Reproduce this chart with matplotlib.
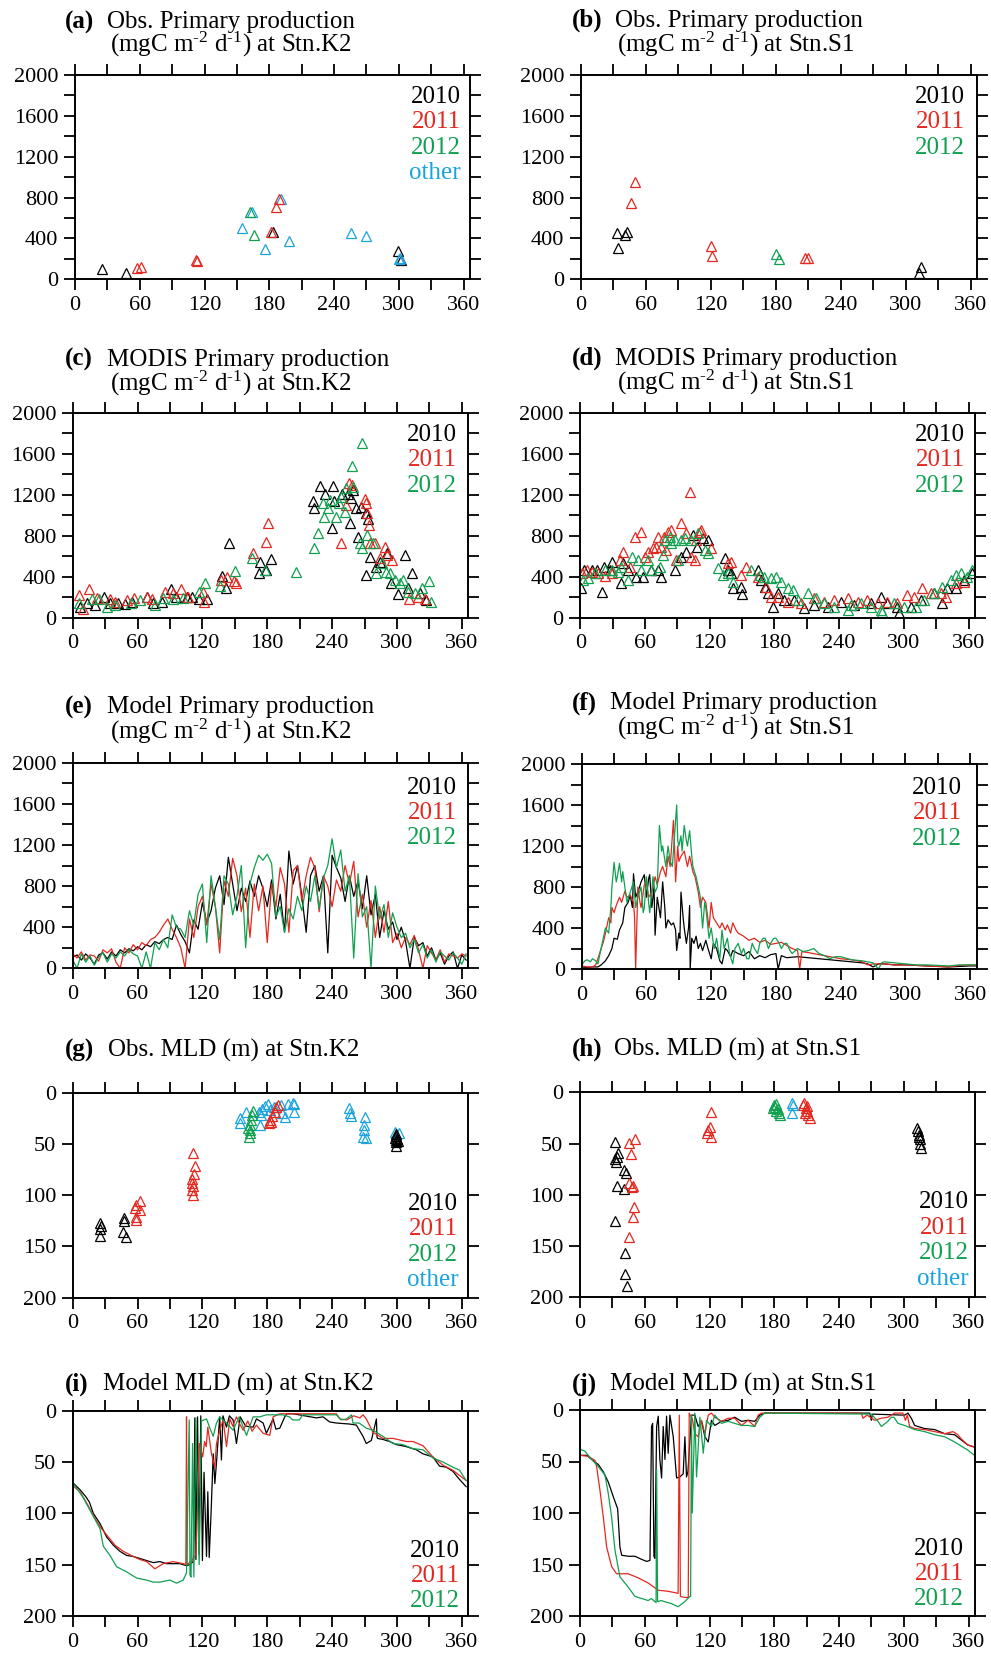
import numpy as np
import matplotlib
matplotlib.use('Agg')
import matplotlib.pyplot as plt
from matplotlib.ticker import MultipleLocator

plt.rcParams['font.family'] = ['Liberation Serif', 'DejaVu Serif']
plt.rcParams['mathtext.fontset'] = 'custom'
plt.rcParams['mathtext.rm'] = 'Liberation Serif'
plt.rcParams['mathtext.default'] = 'regular'

BLK = 'black'
RED = '#e4281f'
GRN = '#10a050'
CYN = '#1aa3de'
W, H = 991, 1654

# ---------------- (a) obs PP K2
a_2010_x = [25, 47, 183, 299, 302]
a_2010_y = [98, 65, 460, 281, 189]
a_2011_x = [57, 61, 111.7, 113.5, 182, 186, 189]
a_2011_y = [108, 124, 189, 179, 467, 705, 790]
a_2012_x = [162.6, 165.7]
a_2012_y = [662, 434]
a_oth_x = [155, 164, 176.5, 190.6, 198, 256, 270, 300, 301]
a_oth_y = [499, 662, 294, 786, 378, 450, 424, 199, 210]

# ---------------- (b) obs PP S1
b_2010_x = [33, 34.5, 40.7, 42.9, 312.8, 314.7]
b_2010_y = [450, 303, 431, 460, 65, 124]
b_2011_x = [46.6, 49.7, 119.7, 121.5, 206.7, 209.8]
b_2011_y = [744, 956, 326, 232, 205, 212]
b_2012_x = [180.5, 183]
b_2012_y = [248, 202]

# ---------------- (c) MODIS PP K2
c_2010_x = [6.8, 13.5, 20.6, 29, 34.5, 42.2, 48.4, 54.5, 68.4, 74.5, 82.2, 90.5, 96, 105.3, 110, 117, 123.8,
            137.7, 141.4, 144.4, 173, 172.5, 179.2, 183.9, 222.4, 223, 228.5, 233.8, 240.8, 240, 241.8, 249.5,
            254.7, 256.2, 257.2, 261.8, 259.3, 264, 267, 271, 271.6, 273.2, 274.7, 280.9, 284, 291, 294.7,
            300.9, 307, 310, 313.8, 321, 327]
c_2010_y = [107, 140, 124, 205, 140, 140, 130, 156, 198, 140, 156, 276, 205, 205, 205, 179, 179,
            406, 286, 725, 546, 439, 465, 572, 1141, 1067, 1285, 1203, 1285, 872, 1138, 1203,
            1206, 920, 1164, 1067, 1246, 790, 1083, 1018, 416, 959, 595, 498, 546, 628, 335,
            231, 611, 286, 433, 237, 172]
c_2011_x = [6.2, 9.2, 15.4, 22.2, 34.5, 39.1, 49.9, 57, 68.4, 73, 85.3, 93, 100.1, 106.9, 120.1, 121.3,
            137, 142.3, 149.4, 150.9, 166.9, 179.2, 180.8, 248.5, 253.2, 255.6, 258.7, 270.1, 271.6,
            272.6, 274.1, 275.3, 279.3, 284, 288.6, 291, 295.7, 311, 319.4, 326.1]
c_2011_y = [221, 81, 276, 189, 179, 156, 172, 189, 205, 179, 254, 237, 276, 205, 254, 156,
            367, 393, 361, 335, 628, 741, 920, 732, 1099, 1311, 1294, 1154, 1115,
            1018, 904, 732, 725, 579, 686, 611, 563, 179, 205, 179]
c_2012_x = [6.2, 17.6, 24.6, 31.4, 39.1, 53.9, 62.2, 76.1, 83.8, 92.4, 102.2, 117, 122.3, 136.1, 150,
            166, 177.7, 207, 223.3, 227, 231.6, 232.5, 236.2, 237.8, 243.9, 246.4, 248.5, 251.6, 258.7,
            267.9, 259.3, 253.2, 265.5, 268, 272.6, 277.8, 280.9, 286.4, 289.5, 293.2, 297.8, 302.4,
            305.5, 310, 316.3, 323.4, 329.2, 331.7]
c_2012_y = [146, 179, 179, 107, 124, 140, 172, 124, 189, 179, 189, 254, 341, 309, 459,
            579, 465, 449, 676, 823, 1115, 985, 1067, 1148, 985, 1115, 1180, 1034, 1480,
            1707, 1278, 1262, 725, 676, 806, 732, 433, 530, 449, 433, 367, 335,
            367, 254, 237, 286, 361, 156]

# ---------------- (d) MODIS PP S1
d_2010_x = [0.6, 3.7, 10.5, 15.1, 20.3, 22.2, 27.4, 29, 38.2, 39.8, 44.4, 52.1, 58.3, 66, 72.1, 75.2,
            87.5, 93.7, 98.3, 104.5, 108.5, 113.7, 118.4, 133.8, 136.9, 139.9, 141.5, 149.2, 149.8, 164.6,
            167.7, 171.4, 173.9, 178.5, 183.1, 189.3, 198.5, 207.8, 217, 229.3, 241.7, 254, 269.4, 278.7,
            284.8, 294.1, 295.6, 306.4, 315.7, 328, 335.7, 340.3, 348, 355.7, 363.4]
d_2010_y = [286, 465, 465, 465, 254, 498, 465, 546, 341, 530, 465, 393, 393, 465, 465, 400,
            465, 595, 644, 806, 693, 774, 758, 579, 465, 433, 286, 302, 231, 465,
            367, 302, 237, 107, 237, 172, 172, 91, 124, 107, 156, 124, 140, 205,
            140, 107, 42, 107, 172, 237, 140, 286, 286, 367, 433]
d_2011_x = [1.8, 5.9, 10.5, 16.6, 22.8, 29, 36.7, 39.8, 45.9, 50.6, 56.7, 59.8, 62.9, 67.5, 70, 72.1,
            75.2, 77.7, 79.8, 81.4, 84.5, 89.1, 93.1, 98.3, 101.4, 103, 106, 107.6, 110.7, 112.2, 120.8,
            136.9, 139.9, 149.2, 153.8, 164.6, 172.3, 176.9, 183.1, 192.4, 204.7, 217, 226.3, 235.5,
            247.8, 257.1, 266.3, 275.6, 284.8, 294.1, 303.3, 309.5, 317.2, 324.9, 334.2, 338.8, 348, 355.7]
d_2011_y = [433, 465, 449, 433, 407, 433, 563, 644, 498, 790, 839, 595, 644, 676, 693, 790,
            693, 790, 660, 839, 855, 563, 920, 823, 1229, 595, 563, 758, 839, 855, 676,
            530, 546, 416, 498, 400, 302, 205, 205, 156, 140, 189, 156, 172,
            189, 156, 172, 140, 156, 140, 221, 205, 286, 237, 237, 205, 335, 351]
d_2012_x = [2.8, 7.4, 13.6, 22.8, 29, 35.1, 38.2, 44.4, 47.5, 53.6, 56.7, 62.9, 66, 73.7, 76.8, 78.3,
            82.9, 84.5, 87.5, 90.6, 93.7, 96.8, 103, 109.1, 115.3, 118.4, 127.6, 132.2, 136.9, 141.5,
            158.4, 166.2, 170.8, 176.9, 181.6, 186.2, 192.4, 197, 201.6, 210.9, 218.6, 226.3, 235.5,
            247.8, 250.9, 260.2, 269.4, 278.7, 280.2, 291, 300.2, 311, 318.7, 328, 335.7, 343.4, 348,
            352.7, 358.8, 363.4]
d_2012_y = [367, 384, 433, 465, 465, 449, 498, 367, 595, 563, 465, 563, 465, 498, 611, 758,
            790, 725, 758, 563, 758, 774, 758, 823, 660, 628, 481, 416, 433, 351,
            465, 416, 400, 384, 400, 351, 286, 270, 172, 237, 189, 140, 107,
            75, 124, 140, 107, 75, 59, 140, 107, 107, 172, 237, 302, 367, 416,
            433, 400, 465]

# ---------------- (e) model PP K2 (every 4 days)
e_day = list(range(0, 365, 4))
e_2010 = [110, 130, 80, 140, 100, 40, 130, 150, 90, 160,
          120, 180, 150, 190, 170, 210, 180, 230, 210, 260,
          240, 280, 300, 280, 420, 330, 260, 150, 470, 380,
          640, 440, 560, 780, 900, 620, 1080, 820, 560, 780,
          650, 850, 700, 900, 780, 600, 860, 480, 720, 350,
          1140, 820, 1000, 700, 350, 900, 1000, 750, 900, 150,
          1100, 980, 880, 650, 900, 700, 850, 580, 900, 520,
          720, 300, 560, 380, 450, 280, 400, 260, 0, 300,
          220, 250, 120, 200, 80, 150, 40, 120, 160, 0,
          130, 80]
e_2011 = [140, 100, 160, 80, 130, 120, 70, 180, 150, 190,
          60, 0, 200, 150, 230, 180, 250, 220, 280, 300,
          350, 420, 480, 380, 300, 200, 0, 480, 300, 600,
          700, 420, 820, 600, 150, 850, 700, 1070, 900, 550,
          780, 300, 820, 560, 800, 250, 820, 600, 980, 820,
          350, 950, 1000, 650, 900, 1080, 980, 550, 900, 800,
          600, 860, 750, 1000, 820, 1040, 500, 720, 400, 660,
          300, 600, 350, 650, 250, 340, 200, 300, 230, 320,
          180, 0, 220, 150, 80, 180, 60, 140, 120, 100,
          140, 120]
e_2012 = [80, 0, 140, 60, 120, 30, 110, 150, 60, 140,
          100, 160, 120, 180, 140, 120, 0, 160, 0, 250,
          180, 280, 200, 520, 400, 380, 300, 560, 420, 720,
          820, 250, 900, 600, 280, 900, 820, 520, 700, 1000,
          200, 820, 980, 1100, 1050, 1110, 1020, 500, 600, 350,
          580, 480, 700, 560, 800, 650, 900, 580, 880, 1000,
          1260, 980, 1150, 750, 900, 100, 920, 500, 600, 0,
          800, 480, 620, 300, 540, 400, 300, 340, 200, 280,
          150, 230, 100, 180, 60, 160, 120, 80, 150, 100,
          40, 140]

# ---------------- (f) model PP S1
f_2010_d = [0, 5, 10, 15, 18, 22, 25, 28, 30, 33, 35, 38, 40, 43, 45, 47, 48, 50, 53, 55, 58, 60, 62, 63,
            65, 67, 68, 70, 73, 75, 77, 78, 80, 83, 85, 87, 88, 90, 91, 92, 94, 95, 97, 99, 100, 100.5,
            102, 104, 106, 108, 110, 112, 115, 117, 120, 122, 125, 128, 130, 133, 135, 138, 140, 145,
            150, 155, 160, 165, 170, 175, 180, 182, 185, 190, 200, 210, 220, 230, 240, 250, 260, 265,
            270, 275, 280, 290, 300, 310, 320, 330, 340, 350, 360, 365]
f_2010_v = [20, 15, 20, 20, 40, 80, 130, 200, 300, 290, 380, 450, 600, 650, 720, 600, 930, 700, 780, 850,
            920, 700, 880, 920, 600, 800, 330, 700, 500, 850, 600, 400, 480, 430, 450, 380, 180, 350, 300,
            750, 500, 400, 250, 400, 620, 0, 300, 250, 320, 200, 250, 180, 280, 200, 100, 250, 200, 80,
            50, 200, 180, 120, 180, 150, 130, 170, 100, 130, 110, 140, 150, 0, 130, 110, 120, 110, 100,
            90, 80, 70, 60, 50, 20, 50, 50, 40, 40, 35, 30, 25, 20, 25, 30, 30]
f_2011_d = [0, 5, 10, 13, 15, 18, 20, 22, 25, 27, 28, 30, 32, 35, 37, 40, 42, 45, 48, 49, 50, 51, 52, 54,
            55, 58, 60, 62, 65, 68, 70, 73, 75, 78, 80, 82, 85, 86, 87, 89, 90, 92, 95, 98, 100, 103, 105,
            108, 110, 112, 115, 118, 120, 122, 125, 128, 130, 133, 135, 138, 140, 143, 145, 150, 155,
            160, 165, 170, 175, 180, 185, 190, 195, 200, 202, 204, 210, 220, 230, 240, 250, 260, 265,
            270, 280, 290, 300, 310, 320, 330, 340, 350, 360, 365]
f_2011_v = [30, 20, 20, 40, 100, 200, 260, 350, 500, 450, 600, 550, 620, 700, 650, 760, 700, 720, 650,
            500, 0, 400, 800, 650, 600, 820, 850, 700, 750, 900, 820, 950, 1000, 900, 1100, 1000, 1450,
            1200, 850, 1200, 1050, 1100, 1150, 1000, 1100, 950, 900, 750, 600, 700, 650, 400, 650, 500,
            450, 400, 450, 380, 430, 350, 450, 380, 350, 320, 280, 300, 260, 280, 240, 250, 260, 230,
            200, 180, 0, 170, 160, 140, 120, 100, 90, 70, 40, 50, 50, 40, 40, 35, 30, 25, 20, 35, 40, 40]
f_2012_d = [0, 3, 5, 8, 10, 13, 15, 18, 20, 22, 25, 27, 28, 30, 32, 33, 35, 37, 38, 40, 42, 45, 48, 50,
            52, 55, 57, 58, 60, 62, 63, 65, 66, 68, 70, 72, 74, 75, 78, 80, 82, 84, 86, 88, 89, 90, 92,
            93, 95, 97, 98, 100, 102, 103, 106, 108, 110, 112, 114, 115, 117, 118, 120, 122, 123, 125,
            127, 128, 130, 132, 135, 137, 140, 142, 145, 148, 150, 153, 155, 158, 160, 163, 165, 168,
            170, 173, 175, 178, 180, 183, 185, 188, 190, 193, 195, 200, 205, 210, 215, 220, 225, 230,
            235, 240, 250, 260, 270, 275, 278, 280, 290, 300, 310, 320, 330, 340, 350, 360, 365]
f_2012_v = [40, 80, 90, 70, 100, 80, 50, 200, 300, 400, 350, 600, 800, 1040, 850, 900, 1030, 850, 950,
            800, 650, 750, 850, 600, 700, 800, 550, 600, 900, 650, 550, 750, 900, 750, 800, 1400, 1150,
            1200, 1000, 1200, 1050, 1000, 1300, 1600, 1250, 1200, 1300, 1150, 1400, 1250, 1200, 1350,
            1100, 1000, 900, 800, 700, 400, 650, 600, 400, 300, 400, 250, 200, 300, 150, 100, 380, 200,
            300, 150, 50, 200, 250, 150, 200, 100, 100, 250, 200, 150, 250, 300, 300, 200, 250, 300,
            300, 250, 200, 250, 250, 180, 150, 200, 170, 180, 200, 150, 130, 100, 120, 120, 90, 80, 60,
            0, 60, 70, 60, 50, 40, 40, 35, 30, 40, 40, 40]

# ---------------- (g) obs MLD K2
g_2010_x = [25.2, 26.2, 25.2, 25.2, 47.4, 47.4, 46.8, 48.9, 299, 299.5, 298.5, 300, 299, 300.5, 299, 299.5]
g_2010_y = [126.8, 129.8, 133.3, 139.5, 122.6, 124.9, 135.6, 140.5, 40, 42, 44, 45, 46, 47, 48, 52]
g_2011_x = [57.5, 58.2, 58.2, 59, 62.2, 62.2, 111.4, 112.9, 112.3, 110.8, 110.5, 111.4, 110.5, 111.4,
            181.5, 183.7, 182.8, 184.6, 186.8, 188.3, 189.8]
g_2011_y = [112.8, 121, 124, 109.6, 105.4, 114.5, 59.2, 71.5, 79.7, 84.6, 87.8, 91, 95, 99.8,
            30, 28.3, 26.7, 22.8, 18.5, 14.3, 12]
g_2012_x = [162.5, 163, 163.7, 164.3, 163.7, 165.2, 166.2, 166.8]
g_2012_y = [34.8, 42.9, 39.7, 36.4, 31.5, 26.7, 21.8, 17.6]
g_oth_x = [155, 155, 160.6, 172, 173.5, 174.5, 175.1, 177.5, 180.6, 182.2, 186, 192.3, 194, 196, 199,
           203.7, 205.2, 205.2, 256, 256.6, 257.5, 270.8, 269.2, 269.2, 268.3, 271.4, 298.5, 302]
g_oth_y = [25, 29.9, 18.5, 19, 31.5, 21.8, 16.3, 13, 11, 16.9, 14, 12, 20, 24, 11,
           9.8, 18.5, 11, 15.3, 19.5, 22.8, 23.4, 31.5, 36.4, 42.9, 44.6, 38, 39.7]

# ---------------- (h) obs MLD S1
h_2010_x = [32.4, 35, 32.4, 33, 34, 41, 42.3, 34, 41, 32.4, 41.6, 41.6, 43.2,
            312.5, 313, 314, 315, 315.5, 316, 314.5]
h_2010_y = [48.1, 58.9, 65.4, 67.6, 62.8, 75.8, 79, 91.4, 94.6, 125.2, 156.4, 177.6, 188.6,
            34.5, 38, 42, 46, 50, 54.6, 44]
h_2011_x = [45.6, 51, 46.9, 45.6, 47.8, 49.5, 50.3, 49.4, 45, 121.2, 118.8, 120.3, 121.2, 117.8,
            206.7, 208, 209, 210, 211, 212.9, 208.5, 210.5]
h_2011_y = [49.8, 45.2, 60.5, 88.8, 92, 91, 111.5, 121.3, 140.8, 18.9, 36.7, 33.5, 43.3, 40,
            12, 10.7, 15, 18, 22, 25.4, 20, 13]
h_2012_x = [179, 180, 181, 182, 183, 184, 185, 181.5]
h_2012_y = [15, 12, 14, 18, 16, 20, 22, 11]
h_oth_x = [196.8, 196.8, 197.5]
h_oth_y = [10.7, 19.8, 12.5]

# ---------------- (i) model MLD K2
i_2010_d = [0, 6.8, 12.3, 15.4, 19.1, 25.3, 31.4, 37.6, 43.7, 49.9, 56, 62.2, 68.4, 74.5, 80.7, 86.8, 93,
            99.2, 105.3, 108.4, 111.5, 113, 114, 115.5, 117, 118.5, 120, 121.5, 123.8, 125, 126.3, 128, 130,
            131.5, 133, 136, 137.6, 139, 142.3, 145, 148.4, 151.5, 155, 160, 166.9, 170, 176.2, 179.2,
            185.4, 188, 191.6, 196.2, 198, 204, 225.4, 231.6, 237.8, 243.9, 256.2, 262.4, 268.6, 271.6,
            276.3, 281, 281.5, 282, 287, 293.2, 299.4, 308.6, 317.8, 324, 333.2, 339.4, 345.6, 351.7,
            357.9, 364]
i_2010_m = [70, 77, 84, 89, 100, 110, 123, 131, 137, 141, 142, 144, 146, 148, 147, 149, 149,
            149, 151, 150, 147, 7, 145, 6, 140, 5, 146, 60, 142, 79, 143, 100, 42,
            71, 51, 6, 48, 5, 16, 5, 9, 32, 6, 15, 16, 8, 12, 22,
            8, 18, 17, 6, 3, 3, 7, 6, 11, 12, 13, 14, 25, 32,
            29, 8, 25, 27, 28, 30, 33, 35, 38, 42, 45, 54, 55, 59,
            67, 74]
i_2011_d = [0, 6.8, 13, 19.1, 25.3, 31.4, 39.1, 46.8, 56, 62.2, 68.4, 76, 83.8, 93, 102.2, 104.7, 105.3,
            105.8, 108, 111, 114, 117.2, 120.3, 122, 123.5, 125, 128.4, 131.5, 133, 136, 139.2, 142.3,
            145.4, 148, 151.5, 154, 157.7, 162, 166, 170, 176.2, 182.3, 185.4, 191.6, 210, 244, 247.2,
            253.4, 260, 265.7, 268.6, 271.6, 277.8, 287, 296.3, 308.6, 314.7, 324, 333.2, 342.5, 351.7, 364]
i_2011_m = [73, 79, 90, 102, 113, 121, 131, 137, 142, 145, 147, 154, 149, 147, 149, 150, 6,
            150, 148, 145, 140, 32, 45, 30, 35, 16, 42, 55, 32, 19, 9, 35,
            8, 15, 6, 12, 19, 10, 20, 14, 22, 24, 6, 3, 3, 3, 8,
            9, 5, 7, 4, 8, 21, 27, 27, 30, 30, 34, 45, 53, 58, 68]
i_2012_d = [0, 9.9, 19.1, 25.3, 28.3, 34.5, 40.6, 49.9, 59.1, 68.4, 74.5, 80.7, 89.9, 96.1, 102.2, 105.3,
            107.8, 108.5, 109.5, 110.9, 112.1, 113.9, 115.5, 117, 119, 121.3, 123.8, 126.9, 130, 133, 136,
            142.3, 148.4, 154, 160.8, 166.9, 173, 179.2, 194.3, 200.5, 203.6, 209.7, 212.8, 243.9, 248.5,
            253.4, 258, 259.3, 265, 271.6, 277.8, 287, 296.3, 305.5, 314.7, 324, 333.2, 342.5, 351.7,
            357.9, 364]
i_2012_m = [70, 85, 103, 115, 132, 141, 152, 157, 163, 165, 167, 167, 165, 168, 165, 158,
            9, 160, 162, 32, 162, 7, 80, 150, 10, 9, 8, 17, 25, 12, 6,
            12, 19, 6, 24, 6, 6, 4, 4, 6, 9, 9, 4, 4, 9,
            8, 4, 12, 12, 17, 19, 25, 32, 33, 37, 38, 46, 50, 55,
            58, 68]

# ---------------- (j) model MLD S1
j_2010_d = [0, 6.2, 10.8, 17, 21.6, 26.2, 30.8, 34.9, 37, 38.6, 44.7, 50.9, 57.1, 61.7, 64.8, 66.3, 67.3,
            68.5, 69.4, 71, 72.5, 74, 75.6, 77.1, 78.7, 80.2, 81.7, 83.3, 86.4, 89.5, 92.5, 95.6, 97.2,
            98.7, 100, 103.3, 106.4, 109.5, 112.6, 115.7, 118.8, 121.8, 124.9, 131.1, 137.3, 143.4,
            149.6, 155.8, 161.9, 166.6, 171.2, 268.4, 269.9, 271, 300.8, 303.9, 307, 310.1, 319.3,
            328.6, 337.9, 347.1, 353.2, 359.4, 365.5]
j_2010_m = [44, 44, 48, 53, 60, 70, 84, 96, 133, 141, 142, 142, 145, 147, 146, 16, 13,
            142, 144, 16, 6, 48, 66, 16, 48, 6, 42, 5, 26, 66, 65, 62, 26,
            65, 60, 5, 5, 16, 11, 26, 31, 10, 15, 11, 10, 7,
            11, 10, 11, 5, 3, 3, 10, 4, 5, 3, 8, 15, 18,
            19, 23, 24, 29, 34, 36]
j_2011_d = [0, 7.7, 13.9, 15.4, 18.5, 21.6, 24.7, 29.3, 33.9, 44.7, 54, 63.2, 72.5, 81.7, 90.9, 92, 93,
            97.2, 100.3, 101.2, 102, 104, 106.4, 109.5, 112.6, 115.7, 118.8, 121.8, 124.9, 131.1, 137.3,
            143.4, 149.6, 155.8, 161.9, 165, 168.1, 260.7, 262.2, 266, 273, 279.2, 285.3, 291.5, 299.2,
            301.5, 303.3, 305.4, 310.1, 319.3, 328.6, 337.9, 345.6, 350.1, 353.2, 359.4, 365.5]
j_2011_m = [44, 45, 49, 55, 78, 104, 133, 152, 159, 159, 163, 168, 175, 176, 178, 5, 181,
            182, 182, 3, 5, 8, 23, 26, 10, 23, 5, 3, 7, 11, 8,
            8, 15, 10, 16, 5, 3, 3, 8, 5, 10, 8, 7, 3, 3,
            10, 5, 16, 18, 19, 21, 23, 21, 24, 28, 34, 36]
j_2012_d = [0, 4.6, 10.8, 17, 23.1, 26.2, 29.3, 32.4, 37, 44.7, 50.9, 57.1, 63.2, 66, 69.4, 70.5, 71,
            71.9, 72.5, 75, 84.8, 90.9, 97.2, 101.8, 102.5, 103.3, 104, 106.4, 108, 111.1, 114.2, 117.2,
            121.8, 124.9, 131.1, 137.3, 143.4, 149.6, 155.8, 161.9, 166.6, 171.2, 269.9, 276.1, 279.2,
            285.3, 288.4, 291, 294.6, 300.8, 310.1, 319.3, 328.6, 337.9, 347.1, 353.2, 359.4, 365.5]
j_2012_m = [38, 40, 48, 55, 63, 81, 104, 136, 162, 172, 181, 183, 185, 183, 186, 187, 58,
            186, 186, 185, 188, 191, 186, 181, 181, 5, 100, 3, 65, 7, 42, 10,
            16, 5, 13, 11, 13, 15, 15, 16, 7, 3, 4, 11, 16,
            11, 7, 7, 13, 15, 19, 21, 24, 26, 31, 35, 39, 44]

fig = plt.figure(figsize=(W / 100, H / 100), dpi=100)


def make_ax(l, r, t, b, mld=False):
    ax = fig.add_axes([l / W, 1 - b / H, (r - l) / W, (b - t) / H])
    ax.set_xlim(0, 366)
    ax.xaxis.set_major_locator(MultipleLocator(60))
    ax.xaxis.set_minor_locator(MultipleLocator(30))
    if mld:
        ax.set_ylim(200, 0)
        ax.yaxis.set_major_locator(MultipleLocator(50))
    else:
        ax.set_ylim(0, 2000)
        ax.yaxis.set_major_locator(MultipleLocator(400))
        ax.yaxis.set_minor_locator(MultipleLocator(200))
    ax.tick_params(which='both', direction='out', length=8, width=1.3,
                   top=True, right=True, labelsize=16, pad=4)
    for s in ax.spines.values():
        s.set_linewidth(1.4)
    return ax


def title(x_lab, x_txt, y, lab, txt, x2=None, y2=None, txt2=None):
    fig.text(x_lab / W, 1 - y / H, lab, fontsize=18, fontweight='bold', va='baseline')
    fig.text(x_txt / W, 1 - y / H, txt, fontsize=18, va='baseline')
    if txt2:
        fig.text(x2 / W, 1 - y2 / H, txt2, fontsize=18, va='baseline')


def legend(ax, labels, colors, dx, dy, top=True, step=25.4):
    n = len(labels)
    for k, (lab, c) in enumerate(zip(labels, colors)):
        if top:
            off = -(dy + k * step)
            xy = (1, 1)
        else:
            off = dy + (n - 1 - k) * step
            xy = (1, 0)
        ax.annotate(lab, xy=xy, xycoords='axes fraction', xytext=(-dx * 0.72, off * 0.72),
                    textcoords='offset points', ha='right', va='baseline', color=c, fontsize=18)


def tri(ax, x, y, c):
    ax.plot(x, y, ls='none', marker='^', ms=6.5, mfc='none', mec=c, mew=0.9)


YRS = ['2010', '2011', '2012']
YC = [BLK, RED, GRN]
unit = r'(mgC m$^{\text{-2}}$ d$^{\text{-1}}$) at Stn.'

# (a)
ax = make_ax(75, 470, 75, 279.3)
tri(ax, a_2010_x, a_2010_y, BLK)
tri(ax, a_oth_x, a_oth_y, CYN)
tri(ax, a_2012_x, a_2012_y, GRN)
tri(ax, a_2011_x, a_2011_y, RED)
legend(ax, YRS + ['other'], YC + [CYN], 9, 28)
title(65, 107, 28.3, '(a)', 'Obs. Primary production', 110, 52, unit + 'K2')

# (b)
ax = make_ax(581, 977, 75, 279.3)
tri(ax, b_2010_x, b_2010_y, BLK)
tri(ax, b_2011_x, b_2011_y, RED)
tri(ax, b_2012_x, b_2012_y, GRN)
legend(ax, YRS, YC, 12, 28)
title(571.7, 615, 26.7, '(b)', 'Obs. Primary production', 616.7, 51.7, unit + 'S1')

# (c)
ax = make_ax(72.7, 468.3, 412.7, 617.7)
tri(ax, c_2010_x, c_2010_y, BLK)
tri(ax, c_2011_x, c_2011_y, RED)
tri(ax, c_2012_x, c_2012_y, GRN)
legend(ax, YRS, YC, 11, 28)
title(65, 106.7, 366, '(c)', 'MODIS Primary production', 110, 390.7, unit + 'K2')

# (d)
ax = make_ax(580.3, 975, 412.7, 617.7)
tri(ax, d_2010_x, d_2010_y, BLK)
tri(ax, d_2011_x, d_2011_y, RED)
tri(ax, d_2012_x, d_2012_y, GRN)
legend(ax, YRS, YC, 10, 28)
title(571.7, 615, 365, '(d)', 'MODIS Primary production', 616.7, 390, unit + 'S1')

# (e)
ax = make_ax(72.7, 468.3, 762.7, 968.3)
ax.plot(e_day, e_2010, color=BLK, lw=0.9)
ax.plot(e_day, e_2011, color=RED, lw=0.9)
ax.plot(e_day, e_2012, color=GRN, lw=0.9)
legend(ax, YRS, YC, 11, 31)
title(65, 106.7, 713.3, '(e)', 'Model Primary production', 110, 739, unit + 'K2')

# (f)
ax = make_ax(581.7, 976.7, 764, 969)
ax.plot(f_2010_d, f_2010_v, color=BLK, lw=0.9)
ax.plot(f_2011_d, f_2011_v, color=RED, lw=0.9)
ax.plot(f_2012_d, f_2012_v, color=GRN, lw=0.9)
legend(ax, YRS, YC, 15, 30)
title(571.7, 610, 709.3, '(f)', 'Model Primary production', 616.7, 735, unit + 'S1')

# (g)
ax = make_ax(72.7, 468.3, 1092.7, 1297.7, mld=True)
tri(ax, g_oth_x, g_oth_y, CYN)
tri(ax, g_2010_x, g_2010_y, BLK)
tri(ax, g_2011_x, g_2011_y, RED)
tri(ax, g_2012_x, g_2012_y, GRN)
legend(ax, YRS + ['other'], YC + [CYN], 10, 11.7, top=False, step=25.3)
title(65, 108.3, 1056.7, '(g)', 'Obs. MLD (m) at Stn.K2')

# (h)
ax = make_ax(580, 975, 1092.3, 1297.3, mld=True)
tri(ax, h_2010_x, h_2010_y, BLK)
tri(ax, h_2011_x, h_2011_y, RED)
tri(ax, h_2012_x, h_2012_y, GRN)
tri(ax, h_oth_x, h_oth_y, CYN)
legend(ax, YRS + ['other'], YC + [CYN], 6, 12.3, top=False, step=25.7)
title(571.7, 614.3, 1056, '(h)', 'Obs. MLD (m) at Stn.S1')

# (i)
ax = make_ax(72.7, 468.3, 1410.7, 1616, mld=True)
ax.plot(i_2010_d, i_2010_m, color=BLK, lw=0.9)
ax.plot(i_2011_d, i_2011_m, color=RED, lw=0.9)
ax.plot(i_2012_d, i_2012_m, color=GRN, lw=0.9)
legend(ax, YRS, YC, 8, 9.3, top=False, step=25)
title(65, 102.7, 1390.7, '(i)', 'Model MLD (m) at Stn.K2')

# (j)
ax = make_ax(580, 975, 1410, 1616, mld=True)
ax.plot(j_2010_d, j_2010_m, color=BLK, lw=0.9)
ax.plot(j_2011_d, j_2011_m, color=RED, lw=0.9)
ax.plot(j_2012_d, j_2012_m, color=GRN, lw=0.9)
legend(ax, YRS, YC, 10.7, 11, top=False, step=25)
title(571.7, 610, 1390.7, '(j)', 'Model MLD (m) at Stn.S1')

fig.savefig('out.png', dpi=100)
